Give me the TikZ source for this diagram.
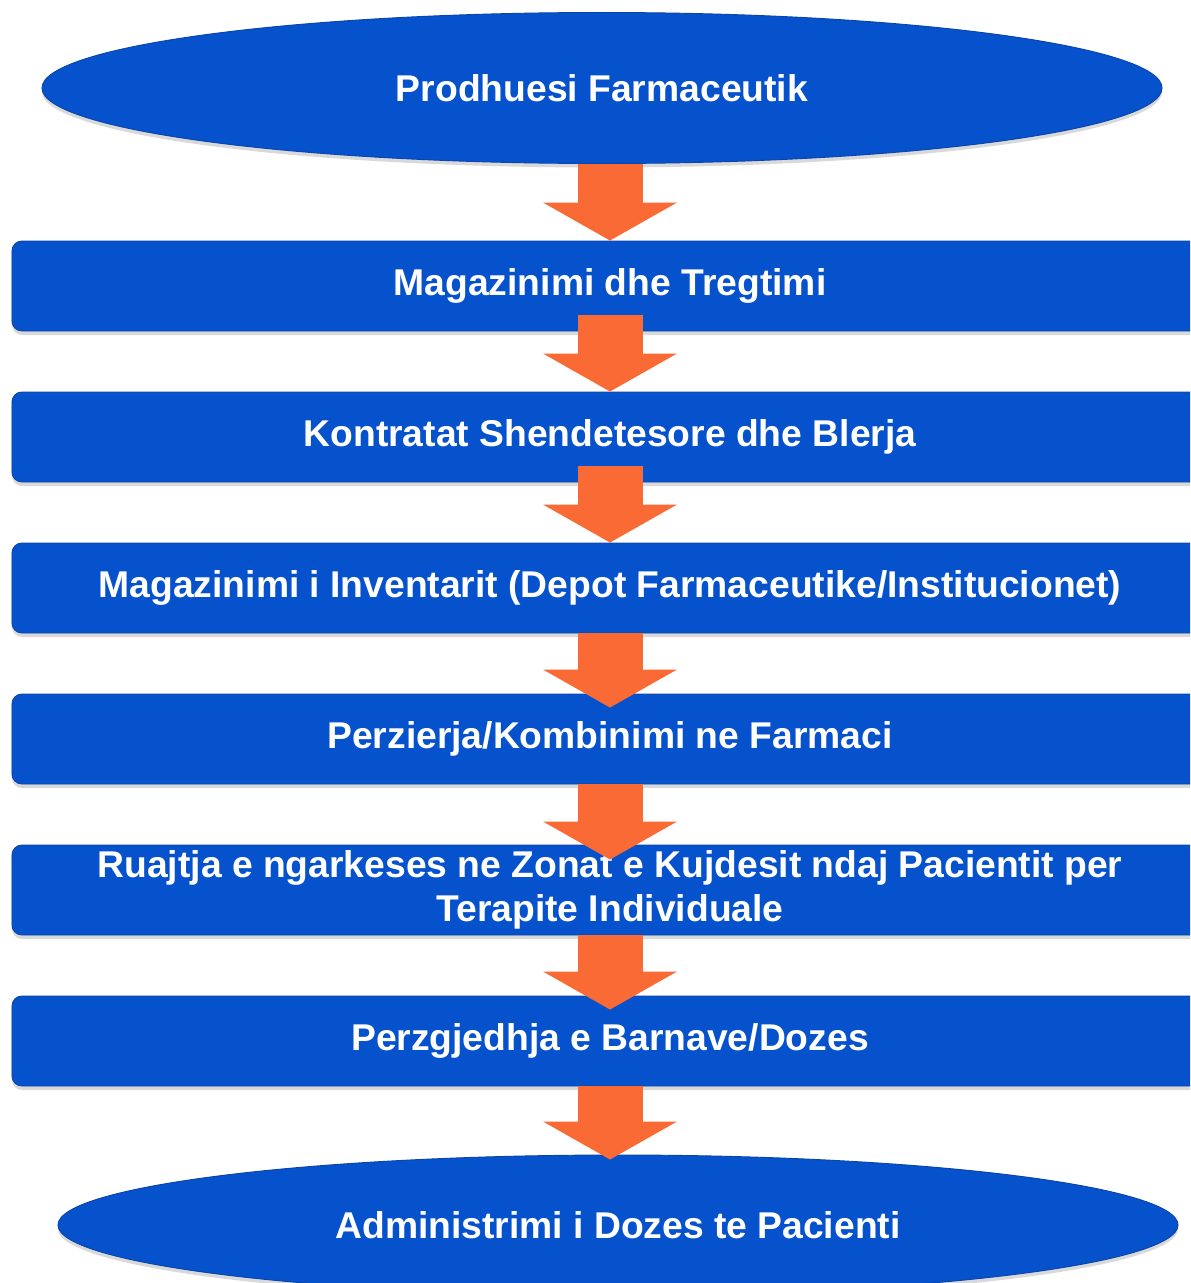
\documentclass[tikz,border=0pt]{standalone}
\usepackage{fontspec}
\setmainfont{Liberation Sans}
\usepackage{tikz}
\usetikzlibrary{arrows.meta, shapes.geometric, shadows}
\definecolor{boxblue}{HTML}{0652CC}
\definecolor{boxedge}{HTML}{0A45AC}
\definecolor{arrorange}{HTML}{F96A35}
\tikzset{
	stepbox/.style={rectangle, rounded corners=0.3cm, fill=boxblue, draw=boxedge, line width=0.8pt,
		minimum width=35.88cm, minimum height=2.7cm, inner sep=0pt, text=white, align=center,
		font=\fontsize{31.8}{38}\selectfont\bfseries,
		drop shadow={shadow xshift=0pt, shadow yshift=-0.12cm, opacity=0.3}},
	endbox/.style={stepbox, ellipse, sharp corners, minimum width=33.6cm, minimum height=4.53cm},
	flow/.style={line width=1.95cm, draw=arrorange, -{Triangle[width=4.02cm, length=1.14cm, line width'=0pt]}}
}

\begin{document}
\begin{tikzpicture}[x=0.03cm, y=-0.03cm]
			\useasboundingbox (0,0) rectangle (1190,1283);
			\clip (0,0) rectangle (1190,1283);
			\node[endbox] (e1) at (602,88) {Prodhuesi Farmaceutik};
			\foreach [count=\i] \t in {Magazinimi dhe Tregtimi, Kontratat Shendetesore dhe Blerja,
				Magazinimi i Inventarit (Depot Farmaceutike/Institucionet), Perzierja/Kombinimi ne Farmaci,
				Ruajtja e ngarkeses ne Zonat e Kujdesit ndaj Pacientit per\\Terapite Individuale,
				Perzgjedhja e Barnave/Dozes}{
				\node[stepbox] (b\i) at (610, 135+151*\i) {\t};
			}
			\node[endbox, minimum height=4.2cm] (e2) at (618,1225) {Administrimi i Dozes te Pacienti};
			% arrows on top
			\draw[flow] (b1.north |- e1.south) -- (b1.north);
			\foreach \a/\b/\s/\e in {1/2/16/0, 2/3/16/0, 3/4/0/-14, 4/5/0/-15, 5/6/0/-14}{
				\draw[flow] ([yshift=\s*0.03cm]b\a.south) -- ([yshift=\e*0.03cm]b\b.north);
			}
			\draw[flow] (b6.south) -- ([yshift=-5*0.03cm]b6.south |- e2.north);
		\end{tikzpicture}
\end{document}
